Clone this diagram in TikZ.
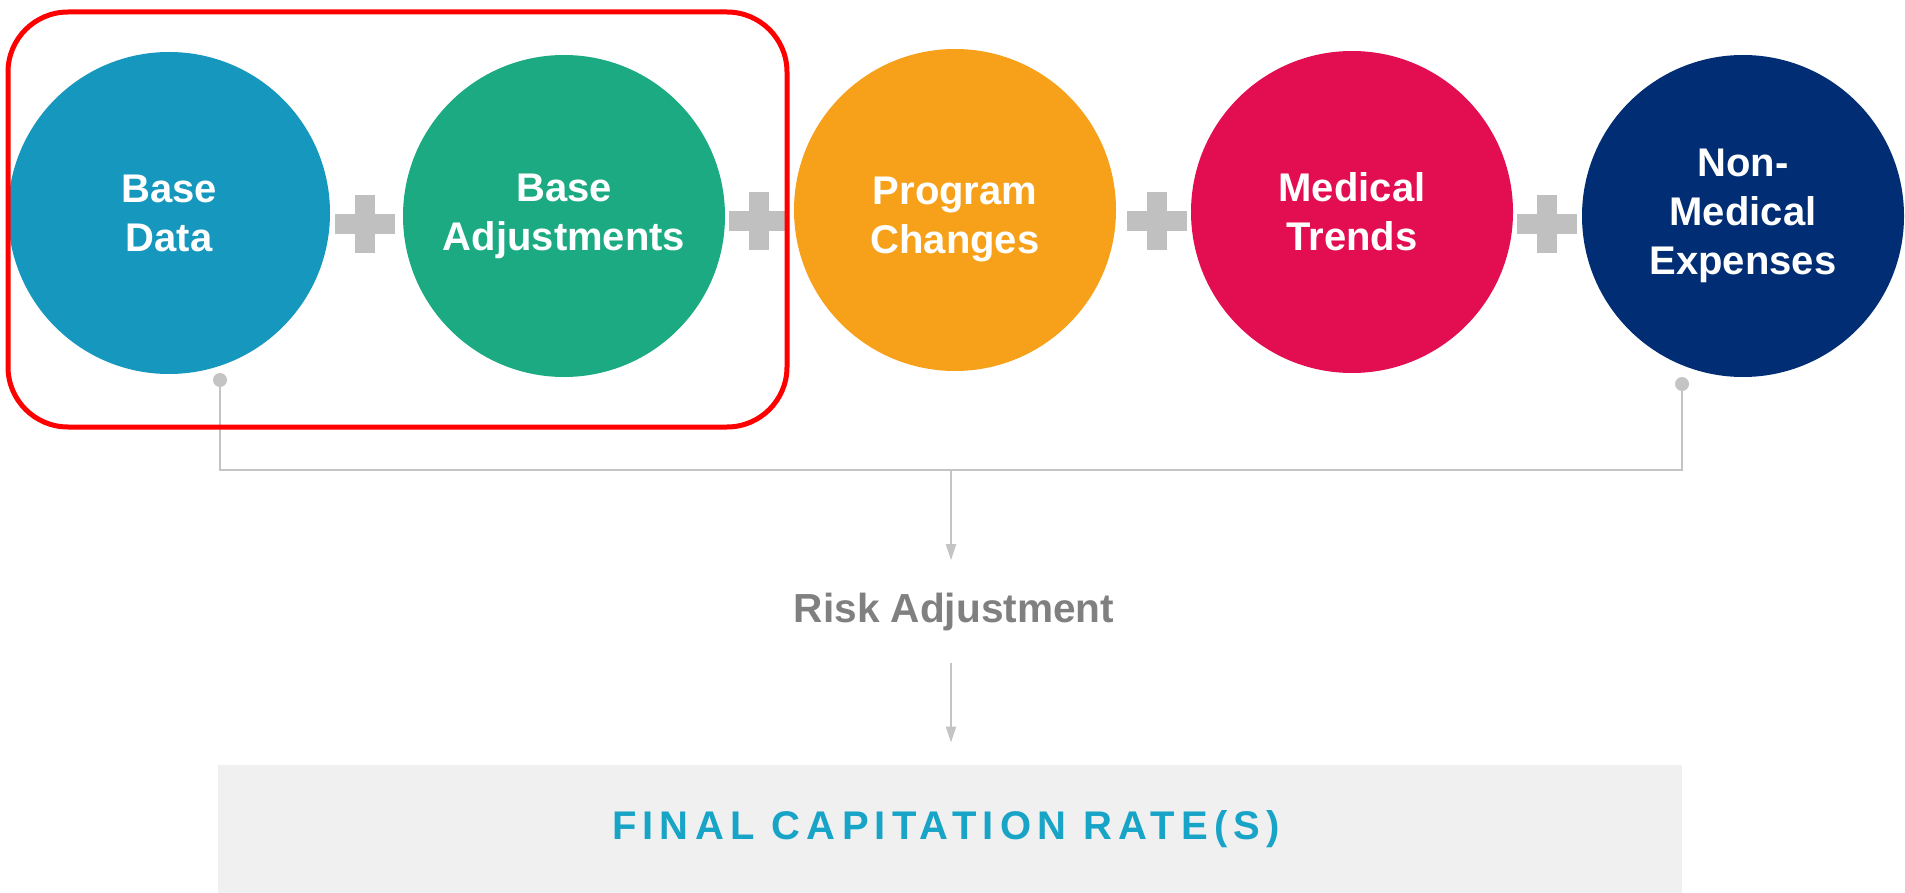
\documentclass[tikz,border=0pt]{standalone}
\usepackage{fontspec}
\setmainfont{Liberation Sans}
\newfontfamily\spacedfont[LetterSpace=15.5]{Liberation Sans}
\usetikzlibrary{arrows.meta}
\definecolor{cBlue}{RGB}{21,151,190}
\definecolor{cGreen}{RGB}{28,170,130}
\definecolor{cOrange}{RGB}{247,161,26}
\definecolor{cPink}{RGB}{227,14,82}
\definecolor{cNavy}{RGB}{0,45,116}
\definecolor{plusGray}{RGB}{192,192,192}
\definecolor{lineGray}{RGB}{196,196,196}
\definecolor{riskGray}{RGB}{128,128,128}
\definecolor{boxGray}{RGB}{240,240,240}
\definecolor{finalTeal}{RGB}{24,164,198}
\begin{document}
\begin{tikzpicture}[x=0.5pt,y=-0.5pt,
  bubble/.style={circle, minimum size=161pt, inner sep=0pt, align=center, text=white,
    font=\bfseries\fontsize{20}{24.5}\selectfont},
  dotstyle/.style={circle, fill=lineGray, minimum size=7pt, inner sep=0pt},
  conn/.style={draw=lineGray, line width=1pt},
  arr/.style={conn, -{Triangle[length=8pt,width=5pt]}}
]
\fill[white] (0,0) rectangle (1905,893);
\useasboundingbox (0,0) rectangle (1905,893);
% plus signs
\foreach \px/\py in {365/224, 759/221, 1157/221, 1547/224} {
  \fill[plusGray] (\px-30,\py-10) rectangle (\px+30,\py+10);
  \fill[plusGray] (\px-10,\py-29) rectangle (\px+10,\py+29);
}
% circles
\node[bubble, fill=cBlue]   (bd) at (169,213)  {Base\\Data};
\node[bubble, fill=cGreen]  (ba) at (564,216)  {Base\\Adjustments};
\node[bubble, fill=cOrange, text depth=0pt] (pc) at (955,210)  {\raisebox{10pt}{\begin{tabular}{@{}c@{}}Program\\Changes\end{tabular}}};
\node[bubble, fill=cPink]   (mt) at (1352,212) {Medical\\Trends};
\node[bubble, fill=cNavy]   (nm) at (1743,216) {Non-\\Medical\\Expenses};
% connectors
\node[dotstyle] (dotL) at (220,380) {};
\node[dotstyle] (dotR) at (1682,384) {};
\coordinate (join) at (951,470);
\draw[conn] (dotL) |- (join) -| (dotR);
\node[font=\bfseries\fontsize{20.3}{24}\selectfont, text=riskGray, inner xsep=0pt, inner ysep=16pt, anchor=base] (risk) at (954,622) {Risk Adjustment};
\node[fill=boxGray, minimum width=732pt, minimum height=64pt, inner sep=0pt,
  text=finalTeal, font=\spacedfont\bfseries\fontsize{20}{24}\selectfont] (final) at (950,829) {\hspace*{-4pt}FINAL CAPITATION RATE(S)};
\draw[arr] (join) -- (join |- risk.north);
\draw[arr, shorten >=11pt] (join |- risk.south) -- (join |- final.north);
% highlight
\draw[red, line width=2.5pt, rounded corners=30pt] (8,12) rectangle (787,427);
\end{tikzpicture}
\end{document}
